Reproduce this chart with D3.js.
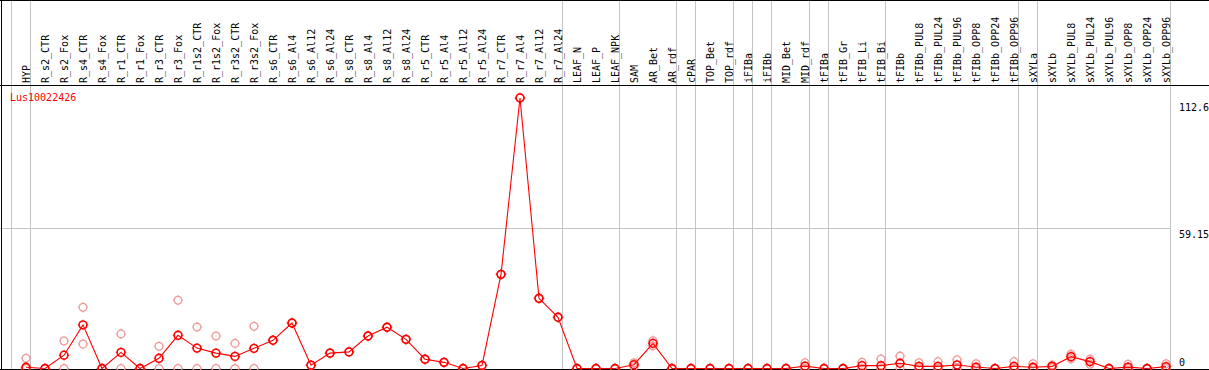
<!DOCTYPE html>
<html><head><meta charset="utf-8">
<script src="https://cdn.jsdelivr.net/npm/d3@7"></script>
<style>body{margin:0;background:#fff}svg{display:block}text{font-family:"DejaVu Sans Mono",monospace;font-size:10px}</style>
</head><body><svg id="c" width="1209" height="370"></svg>
<script>
const categories = ["HYP","R_s2_CTR","R_s2_Fox","R_s4_CTR","R_s4_Fox","R_r1_CTR","R_r1_Fox","R_r3_CTR","R_r3_Fox","R_r1s2_CTR","R_r1s2_Fox","R_r3s2_CTR","R_r3s2_Fox","R_s6_CTR","R_s6_Al4","R_s6_Al12","R_s6_Al24","R_s8_CTR","R_s8_Al4","R_s8_Al12","R_s8_Al24","R_r5_CTR","R_r5_Al4","R_r5_Al12","R_r5_Al24","R_r7_CTR","R_r7_Al4","R_r7_Al12","R_r7_Al24","LEAF_N","LEAF_P","LEAF_NPK","SAM","AR_Bet","AR_rdf","cPAR","TOP_Bet","TOP_rdf","iFIBa","iFIBb","MID_Bet","MID_rdf","tFIBa","tFIB_Gr","tFIB_Li","tFIB_Bi","tFIBb","tFIBb_PUL8","tFIBb_PUL24","tFIBb_PUL96","tFIBb_OPP8","tFIBb_OPP24","tFIBb_OPP96","sXYLa","sXYLb","sXYLb_PUL8","sXYLb_PUL24","sXYLb_PUL96","sXYLb_OPP8","sXYLb_OPP24","sXYLb_OPP96"];
const meanValues = [0.5,0,5.6,18.4,0,6.8,0,4.3,14.0,8.6,6.5,5.1,8.5,11.9,19.2,1.4,6.5,7.0,13.7,17.4,12.3,3.9,2.6,0,1.3,39.7,114.1,29.6,21.6,0,0,0,1.6,10.6,0,0,0,0,0,0,0,1.0,0,0,1.2,1.2,2.2,0.9,0.9,1.5,0.6,0,0.9,0.5,0.9,5.0,2.9,0,0.6,0,0.8];
const rep1Values = [4.3,0,11.6,25.8,0,14.6,0,9.4,28.8,17.5,13.7,10.6,17.8,11.9,19.2,1.4,6.5,7.0,13.7,17.4,12.3,3.9,2.6,0,1.3,39.7,114.1,29.6,21.6,0,0,0,2.4,11.7,0,0,0,0,0,0,0,2.4,0,0,2.6,4.0,5.2,2.4,2.9,3.7,2.0,0,2.9,2.0,1.5,6.0,3.9,0,1.8,0,2.0];
const rep2Values = [0,0,0,10.3,0,0,0,0,0,0,0,0,0,11.9,19.2,1.4,6.5,7.0,13.7,17.4,12.3,3.9,2.6,0,1.3,39.7,114.1,29.6,21.6,0,0,0,0.8,9.5,0,0,0,0,0,0,0,0,0,0,0,0,0,0,0,0,0,0,0,0,0.3,4.1,1.8,0,0,0,0];
const groupEnds = [-1,0,28,31,34,35,37,38,39,41,42,45,52,53,60];
const yTickValues = [112.6, 59.15, 0];
const yTickLabels = ["112.6", "59.15", "0"];
const gridValues = [59.15];
const seriesName = "Lus10022426";

const svg = d3.select("#c");
const x = d3.scaleLinear().domain([0, categories.length - 1]).range([26, 1166]);
const y = d3.scaleLinear().domain([0, 118.3]).range([368.5, 88]);
const RED = "#ff0000", PINK = "#f09a9a", GRAY = "#c4c4c4";

svg.append("g").selectAll("line").data(groupEnds).join("line")
  .attr("x1", d => Math.round(x(d) + 4) + 0.5).attr("x2", d => Math.round(x(d) + 4) + 0.5)
  .attr("y1", 0).attr("y2", 370).attr("stroke", GRAY).attr("stroke-width", 1);
svg.append("g").selectAll("line").data(gridValues).join("line")
  .attr("x1", 0).attr("x2", 1170).attr("y1", d => Math.round(y(d)) + 0.5).attr("y2", d => Math.round(y(d)) + 0.5)
  .attr("stroke", GRAY);
const frame = svg.append("g").attr("stroke", "#000").attr("stroke-width", 1);
frame.append("line").attr("x1", 0).attr("x2", 1209).attr("y1", 0.5).attr("y2", 0.5);
frame.append("line").attr("x1", 0).attr("x2", 1209).attr("y1", 85.5).attr("y2", 85.5);
frame.append("line").attr("x1", 0).attr("x2", 1209).attr("y1", 369.5).attr("y2", 369.5);
frame.append("line").attr("x1", 1.5).attr("x2", 1.5).attr("y1", 0).attr("y2", 370);

svg.append("g").selectAll("text").data(categories).join("text")
  .attr("transform", (d, i) => `translate(${x(i) + 3.5},83) rotate(-90)`)
  .attr("fill", "#000").text(d => d);

svg.append("g").selectAll("text").data(yTickValues).join("text")
  .attr("x", 1179).attr("y", d => Math.min(y(d) + 9.5, 366))
  .attr("fill", "#000").text((d, i) => yTickLabels[i]);

svg.append("text").attr("x", 10).attr("y", 101).attr("fill", RED).text(seriesName);

function marker(g, color, sw) {
  g.append("circle").attr("r", 3.9).attr("fill", "none").attr("stroke", color).attr("stroke-width", sw);
  g.append("path").attr("d", "M0,-5.2V-4.2M0,4.2V5.2M-5.2,0H-4.2M4.2,0H5.2").attr("stroke", color).attr("stroke-width", 1);
}
[rep1Values, rep2Values].forEach(vals => {
  svg.append("g").selectAll("g").data(vals).join("g")
    .attr("transform", (d, i) => `translate(${x(i)},${y(d)})`)
    .each(function () { marker(d3.select(this), PINK, 1.3); });
});
svg.append("path").datum(meanValues)
  .attr("d", d3.line().x((d, i) => x(i)).y(d => y(d)))
  .attr("fill", "none").attr("stroke", RED).attr("stroke-width", 1.1);
svg.append("g").selectAll("g").data(meanValues).join("g")
  .attr("transform", (d, i) => `translate(${x(i)},${y(d)})`)
  .each(function () { marker(d3.select(this), RED, 1.6); });
</script></body></html>
